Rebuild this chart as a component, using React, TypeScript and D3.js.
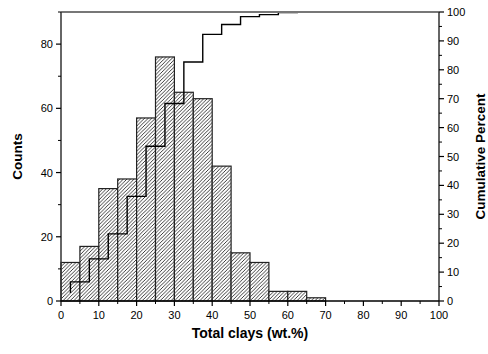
import React from "react";
import * as d3 from "d3";

// Histogram of total clay content, 5 wt.% bins
const binStarts = [0, 5, 10, 15, 20, 25, 30, 35, 40, 45, 50, 55, 60, 65];
const binWidth = 5;
const counts = [12, 17, 35, 38, 57, 76, 65, 63, 42, 15, 12, 3, 3, 1];
const xTicks = [0, 10, 20, 30, 40, 50, 60, 70, 80, 90, 100];
const countTicks = [0, 20, 40, 60, 80];
const percentTicks = [0, 10, 20, 30, 40, 50, 60, 70, 80, 90, 100];

const W = 488;
const H = 354;
const margin = { left: 61, right: 49, top: 12, bottom: 53 };
const hs = 3.6; // hatch spacing

export default function App() {
  const x = d3.scaleLinear().domain([0, 100]).range([margin.left, W - margin.right]);
  const yL = d3.scaleLinear().domain([0, 90]).range([H - margin.bottom, margin.top]);
  const yR = d3.scaleLinear().domain([0, 100]).range([H - margin.bottom, margin.top]);

  const total = d3.sum(counts);
  const cum = Array.from(d3.cumsum(counts)).map((c) => (c / total) * 100);
  const cumPts: [number, number][] = binStarts.map((b, i) => [b + binWidth / 2, cum[i]]);
  const stepLine = d3
    .line<[number, number]>()
    .x((d) => x(d[0]))
    .y((d) => yR(d[1]))
    .curve(d3.curveStepBefore);

  const y0 = H - margin.bottom;
  const x0 = margin.left;
  const x1 = W - margin.right;
  const font = "Arial, 'Liberation Sans', sans-serif";

  const minorX = d3.range(5, 100, 10);
  const minorL = d3.range(10, 91, 20);
  const minorR = d3.range(5, 100, 10);
  const q = hs / 4;

  return (
    <svg width={W} height={H} style={{ position: "absolute", left: 0, top: 0 }} fontFamily={font}>
      <defs>
        <pattern id="hatch" patternUnits="userSpaceOnUse" width={hs} height={hs}>
          <rect width={hs} height={hs} fill="#fff" />
          <path
            d={`M${-q},${q} l${2 * q},${-2 * q} M0,${hs} l${hs},${-hs} M${hs - q},${hs + q} l${2 * q},${-2 * q}`}
            stroke="#1a1a1a"
            strokeWidth="0.85"
          />
        </pattern>
      </defs>
      <rect width={W} height={H} fill="#fff" />

      {/* bars */}
      {counts.map((c, i) => (
        <rect
          key={i}
          x={x(binStarts[i])}
          y={yL(c)}
          width={x(binStarts[i] + binWidth) - x(binStarts[i])}
          height={y0 - yL(c)}
          fill="url(#hatch)"
          stroke="#222"
          strokeWidth={1.2}
        />
      ))}

      {/* cumulative percent step line */}
      <path d={stepLine(cumPts) ?? ""} fill="none" stroke="#000" strokeWidth={1.4} />

      {/* frame */}
      <line x1={x0} x2={x1} y1={margin.top} y2={margin.top} stroke="#777" strokeWidth={2} />
      <line x1={x0} x2={x0} y1={margin.top} y2={y0} stroke="#333" strokeWidth={1.5} />
      <line x1={x1} x2={x1} y1={margin.top} y2={y0} stroke="#333" strokeWidth={1.5} />
      <line x1={x0} x2={x1} y1={y0} y2={y0} stroke="#000" strokeWidth={1.5} />

      {/* bottom axis */}
      {xTicks.map((t) => (
        <g key={"x" + t}>
          <line x1={x(t)} x2={x(t)} y1={y0} y2={y0 + 5} stroke="#000" strokeWidth={1.2} />
          <text x={x(t)} y={y0 + 18} fontSize={11} textAnchor="middle" fill="#000">
            {t}
          </text>
        </g>
      ))}
      {minorX.map((t) => (
        <line key={"xm" + t} x1={x(t)} x2={x(t)} y1={y0} y2={y0 + 3} stroke="#000" strokeWidth={1} />
      ))}

      {/* left axis */}
      {countTicks.map((t) => (
        <g key={"l" + t}>
          <line x1={x0 - 5} x2={x0} y1={yL(t)} y2={yL(t)} stroke="#000" strokeWidth={1.2} />
          <text x={x0 - 8} y={yL(t) + 4} fontSize={11} textAnchor="end" fill="#000">
            {t}
          </text>
        </g>
      ))}
      {minorL.map((t) => (
        <line key={"lm" + t} x1={x0 - 3} x2={x0} y1={yL(t)} y2={yL(t)} stroke="#000" strokeWidth={1} />
      ))}

      {/* right axis */}
      {percentTicks.map((t) => (
        <g key={"r" + t}>
          <line x1={x1} x2={x1 + 5} y1={yR(t)} y2={yR(t)} stroke="#000" strokeWidth={1.2} />
          <text x={x1 + 8} y={yR(t) + 4} fontSize={11} textAnchor="start" fill="#000">
            {t}
          </text>
        </g>
      ))}
      {minorR.map((t) => (
        <line key={"rm" + t} x1={x1} x2={x1 + 3} y1={yR(t)} y2={yR(t)} stroke="#000" strokeWidth={1} />
      ))}

      {/* titles */}
      <text x={(x0 + x1) / 2} y={338} fontSize={14} fontWeight="bold" textAnchor="middle" fill="#000">
        Total clays (wt.%)
      </text>
      <text
        transform={`translate(22, ${(margin.top + y0) / 2}) rotate(-90)`}
        fontSize={13.5}
        fontWeight="bold"
        textAnchor="middle"
        fill="#000"
      >
        Counts
      </text>
      <text
        transform={`translate(484.5, ${(margin.top + y0) / 2}) rotate(-90)`}
        fontSize={13.5}
        fontWeight="bold"
        textAnchor="middle"
        fill="#000"
      >
        Cumulative Percent
      </text>
    </svg>
  );
}
